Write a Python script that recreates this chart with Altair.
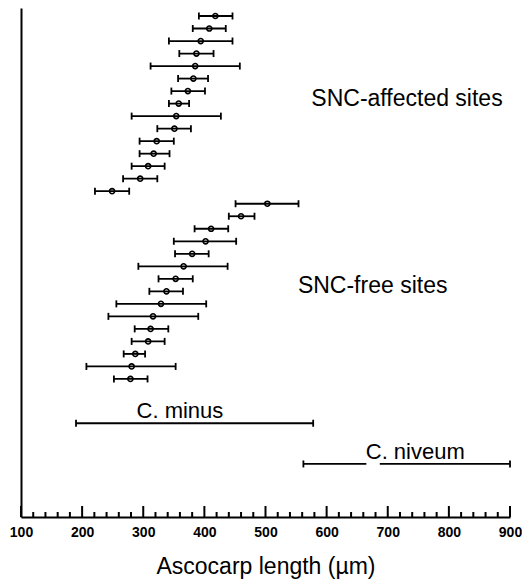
import altair as alt
import pandas as pd

# ---- data ----
affected_mean = [418, 408, 394, 387, 385, 382, 373, 358, 354, 351, 322, 317, 308, 295, 249]
affected_lo = [391, 381, 342, 359, 312, 357, 346, 342, 281, 323, 294, 294, 281, 267, 221]
affected_hi = [446, 435, 446, 415, 458, 406, 401, 375, 427, 378, 350, 343, 335, 323, 277]

free_mean = [503, 460, 411, 402, 380, 366, 353, 338, 329, 316, 312, 308, 287, 281, 279]
free_lo = [451, 440, 384, 350, 352, 292, 325, 310, 256, 243, 286, 281, 268, 207, 252]
free_hi = [554, 482, 439, 452, 407, 438, 381, 365, 403, 390, 341, 335, 303, 353, 307]

species = ["C. minus", "C. niveum"]
species_lo = [190, 562]
species_hi = [578, 900]
species_row = [33.54, 36.79]
niveum_gap = [665, 687]

group_labels = ["SNC-affected sites", "SNC-free sites"]
group_label_x = [575, 553]
group_label_row = [8.19, 23.15]
species_label_x = [360, 745]
species_label_row = [33.14, 36.41]

tick_values = list(range(100, 901, 20))
axis_labels = list(range(100, 901, 100))

# ---- tables ----
rows = list(range(1, 16)) + list(range(16, 31))
sites = pd.DataFrame({
    "row": rows,
    "mean": affected_mean + free_mean,
    "lo": affected_lo + free_lo,
    "hi": affected_hi + free_hi,
})
spec_df = pd.DataFrame({"name": species, "lo": species_lo, "hi": species_hi, "row": species_row})
gap_df = pd.DataFrame({"lo": [niveum_gap[0]], "hi": [niveum_gap[1]], "row": [species_row[1]]})
grp_df = pd.DataFrame({"text": group_labels, "x": group_label_x, "row": group_label_row})
splab_df = pd.DataFrame({"text": species, "x": species_label_x, "row": species_label_row})
ticks_df = pd.DataFrame({"value": tick_values, "major": [v % 100 == 0 for v in tick_values]})

FONT = "Liberation Sans"
W, H = 489, 509

xscale = alt.Scale(domain=[100, 900], nice=False, zero=False)
yscale = alt.Scale(domain=[0.361, 41.03], nice=False, zero=False, reverse=True)
xaxis = alt.Axis(values=axis_labels, format="d", labelFont=FONT, labelFontWeight="bold",
                 labelFontSize=14, labelColor="black", labelFlush=False, ticks=False,
                 tickSize=0, domainWidth=2, domainColor="black", labelPadding=8,
                 grid=False, title="Ascocarp length (µm)", titleFont=FONT, titleFontSize=23,
                 titleFontWeight="normal", titleColor="black", titleY=56,
                 titleBaseline="alphabetic")
yaxis = alt.Axis(labels=False, ticks=False, title=None, domainWidth=2, domainColor="black",
                 grid=False)


def X(field):
    return alt.X(field, type="quantitative", scale=xscale, axis=xaxis)


def Y(field="row"):
    return alt.Y(field, type="quantitative", scale=yscale, axis=yaxis)


LW = 1.8
bars = alt.Chart(sites).mark_rule(color="black", strokeWidth=LW).encode(
    x=X("lo"), x2="hi", y=Y())
cap_lo = alt.Chart(sites).mark_tick(orient="vertical", color="black", size=7,
                                    thickness=LW, opacity=1).encode(x=X("lo"), y=Y())
cap_hi = alt.Chart(sites).mark_tick(orient="vertical", color="black", size=7,
                                    thickness=LW, opacity=1).encode(x=X("hi"), y=Y())
pts = alt.Chart(sites).mark_point(shape="circle", size=26, color="black",
                                  strokeWidth=1.6, opacity=1).encode(x=X("mean"), y=Y())

sp_bars = alt.Chart(spec_df).mark_rule(color="black", strokeWidth=LW).encode(
    x=X("lo"), x2="hi", y=Y())
sp_lo = alt.Chart(spec_df).mark_tick(orient="vertical", color="black", size=7,
                                     thickness=LW, opacity=1).encode(x=X("lo"), y=Y())
sp_hi = alt.Chart(spec_df).mark_tick(orient="vertical", color="black", size=7,
                                     thickness=LW, opacity=1).encode(x=X("hi"), y=Y())
gap = alt.Chart(gap_df).mark_rule(color="white", strokeWidth=5).encode(
    x=X("lo"), x2="hi", y=Y())

grp_text = alt.Chart(grp_df).mark_text(font=FONT, fontSize=23, color="black", align="left",
                                       baseline="alphabetic").encode(
    x=X("x"), y=Y(), text="text:N")
sp_text = alt.Chart(splab_df).mark_text(font=FONT, fontSize=22, color="black", align="center",
                                        baseline="alphabetic").encode(
    x=X("x"), y=Y(), text="text:N")

major = alt.Chart(ticks_df).transform_filter("datum.major").mark_rule(
    color="black", strokeWidth=2).encode(x=X("value"), y=alt.value(H), y2=alt.value(H - 11))
minor = alt.Chart(ticks_df).transform_filter("!datum.major").mark_rule(
    color="black", strokeWidth=2).encode(x=X("value"), y=alt.value(H), y2=alt.value(H - 5))

chart = alt.layer(major, minor, sp_bars, sp_lo, sp_hi, gap, bars, cap_lo, cap_hi, pts,
                  grp_text, sp_text).properties(
    width=W, height=H,
    autosize=alt.AutoSizeParams(type="none"),
    padding={"left": 13, "top": 0, "right": 12, "bottom": 64},
    background="white",
).configure_view(stroke=None)

chart.save("out.html", embed_options={"renderer": "svg", "actions": False})
